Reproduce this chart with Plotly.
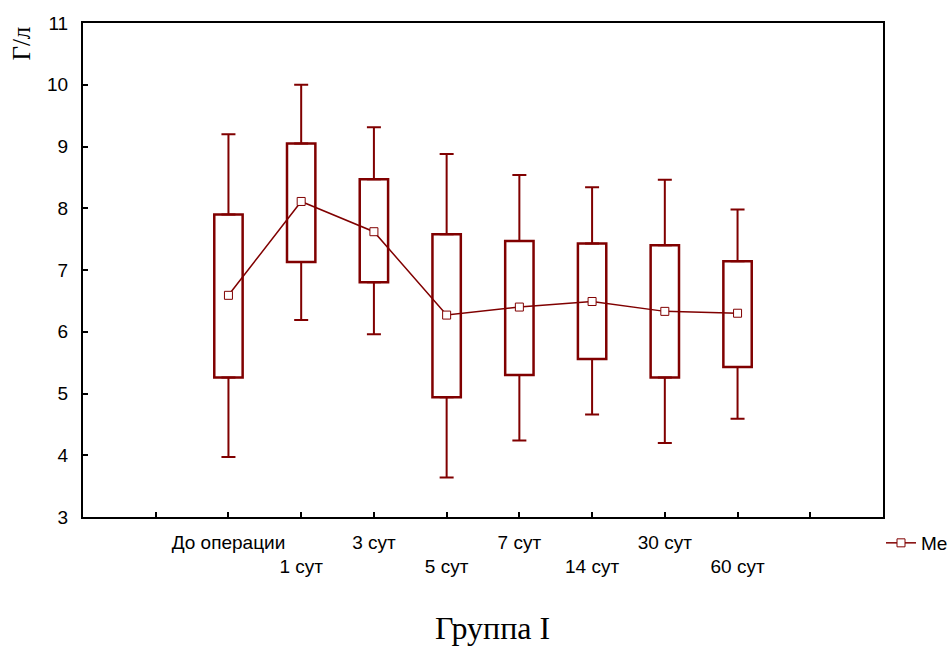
import plotly.graph_objects as go

categories = ["До операции", "1 сут", "3 сут", "5 сут", "7 сут", "14 сут", "30 сут", "60 сут"]
positions = [1, 2, 3, 4, 5, 6, 7, 8]
median = [6.59, 8.11, 7.62, 6.27, 6.40, 6.49, 6.33, 6.30]
q1 = [5.26, 7.13, 6.80, 4.94, 5.30, 5.56, 5.26, 5.43]
q3 = [7.90, 9.05, 8.47, 7.58, 7.47, 7.43, 7.40, 7.14]
whisker_low = [3.97, 6.19, 5.96, 3.64, 4.24, 4.66, 4.20, 4.59]
whisker_high = [9.20, 10.00, 9.31, 8.88, 8.54, 8.34, 8.46, 7.98]
y_ticks = [3, 4, 5, 6, 7, 8, 9, 10, 11]

RED = "#800000"
SANS = "Liberation Sans, Arial, sans-serif"
SERIF = "Liberation Serif, Times New Roman, serif"

fig = go.Figure()

# boxes (interquartile range)
fig.add_trace(go.Bar(
    x=positions, base=q1, y=[h - l for h, l in zip(q3, q1)],
    width=0.39, marker=dict(color="white", line=dict(color=RED, width=2.5)),
    showlegend=False, hoverinfo="skip"))

# upper whiskers
fig.add_trace(go.Scatter(
    x=positions, y=q3, mode="markers",
    marker=dict(size=1, color="rgba(0,0,0,0)"),
    error_y=dict(type="data", symmetric=False,
                 array=[h - t for h, t in zip(whisker_high, q3)],
                 arrayminus=[0] * len(q3), color=RED, thickness=2, width=7),
    showlegend=False, hoverinfo="skip"))

# lower whiskers
fig.add_trace(go.Scatter(
    x=positions, y=q1, mode="markers", xaxis="x2",
    marker=dict(size=1, color="rgba(0,0,0,0)"),
    error_y=dict(type="data", symmetric=False,
                 array=[0] * len(q1),
                 arrayminus=[b - l for b, l in zip(q1, whisker_low)],
                 color=RED, thickness=2, width=7),
    showlegend=False, hoverinfo="skip"))

# median line
fig.add_trace(go.Scatter(
    x=positions, y=median, mode="lines+markers", name="Me",
    line=dict(color=RED, width=1.5),
    marker=dict(symbol="square", size=8, color="white", line=dict(color=RED, width=1)),
    showlegend=True))

odd_vals = [p for i, p in enumerate(positions) if i % 2 == 0]
odd_text = [c for i, c in enumerate(categories) if i % 2 == 0]
even_vals = [p for i, p in enumerate(positions) if i % 2 == 1]
even_text = [c for i, c in enumerate(categories) if i % 2 == 1]

tick_positions = list(range(0, 11))
tick_text = []
for t in tick_positions:
    tick_text.append(odd_text[odd_vals.index(t)] if t in odd_vals else "")

fig.update_layout(
    width=952, height=648,
    margin=dict(l=83, r=69, t=23, b=131, autoexpand=False),
    paper_bgcolor="white", plot_bgcolor="white",
    font=dict(family=SANS, size=19, color="black"),
    barmode="overlay",
    xaxis=dict(range=[-1, 10], tickvals=tick_positions, ticktext=tick_text,
               ticks="inside", ticklen=5, tickwidth=1.5, tickcolor="black",
               showline=True, linecolor="black", linewidth=2, mirror=True,
               showgrid=False, zeroline=False, ticklabelstandoff=7,
               tickfont=dict(family=SANS, size=19)),
    xaxis2=dict(range=[-1, 10], overlaying="x", anchor="y", side="bottom",
                tickvals=even_vals, ticktext=even_text, ticks="",
                showline=False, showgrid=False, zeroline=False,
                ticklabelstandoff=36, tickfont=dict(family=SANS, size=19)),
    yaxis=dict(range=[3, 11], tickvals=y_ticks,
               ticks="inside", ticklen=5, tickwidth=1.5, tickcolor="black",
               showline=True, linecolor="black", linewidth=2, mirror=True,
               showgrid=False, zeroline=False, ticklabelstandoff=9,
               tickfont=dict(family=SANS, size=19)),
    legend=dict(x=0.9975, xanchor="left", y=-0.0526, yanchor="middle",
                bgcolor="rgba(0,0,0,0)", font=dict(family=SANS, size=19)),
    annotations=[
        dict(text="Г/л", xref="paper", yref="paper", x=-0.0765, y=0.958,
             xanchor="center", yanchor="middle", textangle=-90, showarrow=False,
             font=dict(family=SERIF, size=25, color="black")),
        dict(text="Группа I", xref="paper", yref="paper", x=0.5125, y=-0.2247,
             xanchor="center", yanchor="middle", showarrow=False,
             font=dict(family=SERIF, size=32, color="black")),
    ],
)

fig.write_html("out.html")
